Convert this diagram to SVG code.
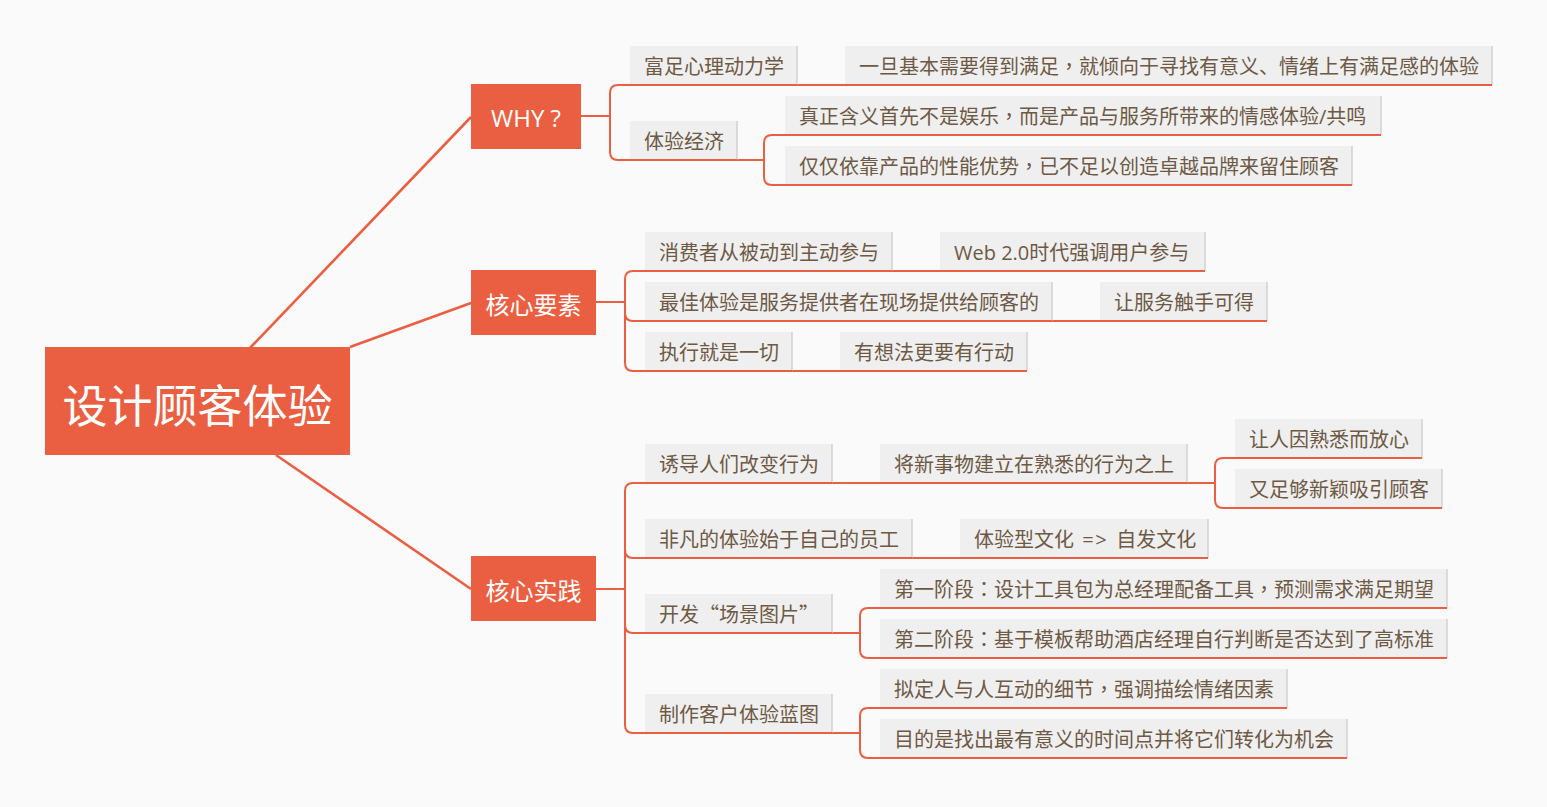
<svg xmlns="http://www.w3.org/2000/svg" width="1547" height="807" viewBox="0 0 1547 807">
<style>
.bg{fill:#fafafa}
.main rect{fill:#ea5f42}
.main text{fill:#ffffff;font-family:"Open Sans","Noto Sans CJK SC",sans-serif}
.root text{font-size:45px;text-anchor:middle;font-family:"Noto Sans CJK SC",sans-serif}
.topic text{font-size:24px;text-anchor:middle}
.sub rect{fill:#efefef}
.sub .sh{stroke:#c8c8c8;stroke-width:1.2}
.sub .ul{stroke:#ea5f42;stroke-width:2}
.sub text{fill:#6e5945;font-size:20px;font-family:"Open Sans","Noto Sans CJK SC",sans-serif}
.cjk text{font-family:"Noto Sans CJK SC",sans-serif}
.p{font-family:"Noto Sans CJK TC",sans-serif}
#connectors path,#connectors line{fill:none;stroke:#ea5f42;stroke-width:2}
#connectors .thick{stroke-width:2.6}
</style>
<rect class="bg" x="0" y="0" width="1547" height="807"/>
<g id="connectors">
<line class="thick" x1="250" y1="348" x2="471" y2="117"/>
<line class="thick" x1="350" y1="347" x2="471" y2="303"/>
<line class="thick" x1="276" y1="455" x2="471" y2="589"/>
<path d="M581,116 H610 M630,85 H618 Q610,85 610,93 V152 Q610,160 618,160 H630"/>
<path d="M797,85 H845"/>
<path d="M737,160 H764 M785,135 H772 Q764,135 764,143 V177 Q764,185 772,185 H785"/>
<path d="M596,302 H625 M645,271 H633 Q625,271 625,279 V363 Q625,371 633,371 H645 M625,313 Q625,321 633,321 H645"/>
<path d="M892,271 H940 M1052,321 H1100 M792,371 H840"/>
<path d="M596,589 H625 M645,483 H633 Q625,483 625,491 V725 Q625,733 633,733 H645 M625,550 Q625,558 633,558 H645 M625,625 Q625,633 633,633 H645"/>
<path d="M832,483 H880 M912,558 H960"/>
<path d="M1187,483 H1215 M1235,458 H1223 Q1215,458 1215,466 V500 Q1215,508 1223,508 H1235"/>
<path d="M832,633 H860 M880,608 H868 Q860,608 860,616 V650 Q860,658 868,658 H880"/>
<path d="M832,733 H860 M880,708 H868 Q860,708 860,716 V750 Q860,758 868,758 H880"/>
</g>
<g id="root" class="main root"><rect x="45" y="347" width="305" height="108"/><text x="197.5" y="423">设计顾客体验</text></g>
<g id="why" class="main topic"><rect x="471" y="84" width="110" height="65"/><text x="526" y="127">WHY ?</text></g>
<g id="core-elements" class="main topic"><rect x="471" y="270" width="125" height="65"/><text x="533.5" y="314">核心要素</text></g>
<g id="core-practice" class="main topic"><rect x="471" y="556" width="125" height="65"/><text x="533.5" y="600">核心实践</text></g>

<g id="n-fuzu" class="sub"><rect x="630" y="46" width="167" height="39"/><line class="sh" x1="797" y1="46" x2="797" y2="85"/><line class="ul" x1="630" y1="85" x2="797" y2="85"/><text x="644" y="74">富足心理动力学</text></g>
<g id="n-yidan" class="sub"><rect x="845" y="46" width="647" height="39"/><line class="sh" x1="1492" y1="46" x2="1492" y2="85"/><line class="ul" x1="845" y1="85" x2="1492" y2="85"/><text x="859" y="74">一旦基本需要得到满足<tspan class="p">，</tspan>就倾向于寻找有意义、情绪上有满足感的体验</text></g>
<g id="n-tiyanjingji" class="sub"><rect x="630" y="121" width="107" height="39"/><line class="sh" x1="737" y1="121" x2="737" y2="160"/><line class="ul" x1="630" y1="160" x2="737" y2="160"/><text x="644" y="149">体验经济</text></g>
<g id="n-zhenzheng" class="sub"><rect x="785" y="96" width="596" height="39"/><line class="sh" x1="1381" y1="96" x2="1381" y2="135"/><line class="ul" x1="785" y1="135" x2="1381" y2="135"/><text x="799" y="124">真正含义首先不是娱乐<tspan class="p">，</tspan>而是产品与服务所带来的情感体验/共鸣</text></g>
<g id="n-jinjin" class="sub"><rect x="785" y="146" width="567" height="39"/><line class="sh" x1="1352" y1="146" x2="1352" y2="185"/><line class="ul" x1="785" y1="185" x2="1352" y2="185"/><text x="799" y="174">仅仅依靠产品的性能优势<tspan class="p">，</tspan>已不足以创造卓越品牌来留住顾客</text></g>

<g id="n-xiaofeizhe" class="sub"><rect x="645" y="232" width="247" height="39"/><line class="sh" x1="892" y1="232" x2="892" y2="271"/><line class="ul" x1="645" y1="271" x2="892" y2="271"/><text x="659" y="260">消费者从被动到主动参与</text></g>
<g id="n-web20" class="sub"><rect x="940" y="232" width="265" height="39"/><line class="sh" x1="1205" y1="232" x2="1205" y2="271"/><line class="ul" x1="940" y1="271" x2="1205" y2="271"/><text x="954" y="260">Web 2.0时代强调用户参与</text></g>
<g id="n-zuijia" class="sub"><rect x="645" y="282" width="407" height="39"/><line class="sh" x1="1052" y1="282" x2="1052" y2="321"/><line class="ul" x1="645" y1="321" x2="1052" y2="321"/><text x="659" y="310">最佳体验是服务提供者在现场提供给顾客的</text></g>
<g id="n-rangfuwu" class="sub"><rect x="1100" y="282" width="167" height="39"/><line class="sh" x1="1267" y1="282" x2="1267" y2="321"/><line class="ul" x1="1100" y1="321" x2="1267" y2="321"/><text x="1114" y="310">让服务触手可得</text></g>
<g id="n-zhixing" class="sub"><rect x="645" y="332" width="147" height="39"/><line class="sh" x1="792" y1="332" x2="792" y2="371"/><line class="ul" x1="645" y1="371" x2="792" y2="371"/><text x="659" y="360">执行就是一切</text></g>
<g id="n-youxiangfa" class="sub"><rect x="840" y="332" width="187" height="39"/><line class="sh" x1="1027" y1="332" x2="1027" y2="371"/><line class="ul" x1="840" y1="371" x2="1027" y2="371"/><text x="854" y="360">有想法更要有行动</text></g>

<g id="n-youdao" class="sub"><rect x="645" y="444" width="187" height="39"/><line class="sh" x1="832" y1="444" x2="832" y2="483"/><line class="ul" x1="645" y1="483" x2="832" y2="483"/><text x="659" y="472">诱导人们改变行为</text></g>
<g id="n-jiangxin" class="sub"><rect x="880" y="444" width="307" height="39"/><line class="sh" x1="1187" y1="444" x2="1187" y2="483"/><line class="ul" x1="880" y1="483" x2="1187" y2="483"/><text x="894" y="472">将新事物建立在熟悉的行为之上</text></g>
<g id="n-rangren" class="sub"><rect x="1235" y="419" width="187" height="39"/><line class="sh" x1="1422" y1="419" x2="1422" y2="458"/><line class="ul" x1="1235" y1="458" x2="1422" y2="458"/><text x="1249" y="447">让人因熟悉而放心</text></g>
<g id="n-youzugou" class="sub"><rect x="1235" y="469" width="207" height="39"/><line class="sh" x1="1442" y1="469" x2="1442" y2="508"/><line class="ul" x1="1235" y1="508" x2="1442" y2="508"/><text x="1249" y="497">又足够新颖吸引顾客</text></g>
<g id="n-feifan" class="sub"><rect x="645" y="519" width="267" height="39"/><line class="sh" x1="912" y1="519" x2="912" y2="558"/><line class="ul" x1="645" y1="558" x2="912" y2="558"/><text x="659" y="547">非凡的体验始于自己的员工</text></g>
<g id="n-wenhua" class="sub"><rect x="960" y="519" width="248" height="39"/><line class="sh" x1="1208" y1="519" x2="1208" y2="558"/><line class="ul" x1="960" y1="558" x2="1208" y2="558"/><text x="974" y="547" word-spacing="3">体验型文化 <tspan letter-spacing="1.5">=&gt;</tspan> 自发文化</text></g>
<g id="n-kaifa" class="sub cjk"><rect x="645" y="594" width="187" height="39"/><line class="sh" x1="832" y1="594" x2="832" y2="633"/><line class="ul" x1="645" y1="633" x2="832" y2="633"/><text x="659" y="622">开发“场景图片”</text></g>
<g id="n-diyi" class="sub"><rect x="880" y="569" width="567" height="39"/><line class="sh" x1="1447" y1="569" x2="1447" y2="608"/><line class="ul" x1="880" y1="608" x2="1447" y2="608"/><text x="894" y="597">第一阶段<tspan class="p">：</tspan>设计工具包为总经理配备工具<tspan class="p">，</tspan>预测需求满足期望</text></g>
<g id="n-dier" class="sub"><rect x="880" y="619" width="567" height="39"/><line class="sh" x1="1447" y1="619" x2="1447" y2="658"/><line class="ul" x1="880" y1="658" x2="1447" y2="658"/><text x="894" y="647">第二阶段<tspan class="p">：</tspan>基于模板帮助酒店经理自行判断是否达到了高标准</text></g>
<g id="n-zhizuo" class="sub"><rect x="645" y="694" width="187" height="39"/><line class="sh" x1="832" y1="694" x2="832" y2="733"/><line class="ul" x1="645" y1="733" x2="832" y2="733"/><text x="659" y="722">制作客户体验蓝图</text></g>
<g id="n-niding" class="sub"><rect x="880" y="669" width="407" height="39"/><line class="sh" x1="1287" y1="669" x2="1287" y2="708"/><line class="ul" x1="880" y1="708" x2="1287" y2="708"/><text x="894" y="697">拟定人与人互动的细节<tspan class="p">，</tspan>强调描绘情绪因素</text></g>
<g id="n-mude" class="sub"><rect x="880" y="719" width="467" height="39"/><line class="sh" x1="1347" y1="719" x2="1347" y2="758"/><line class="ul" x1="880" y1="758" x2="1347" y2="758"/><text x="894" y="747">目的是找出最有意义的时间点并将它们转化为机会</text></g>
</svg>
